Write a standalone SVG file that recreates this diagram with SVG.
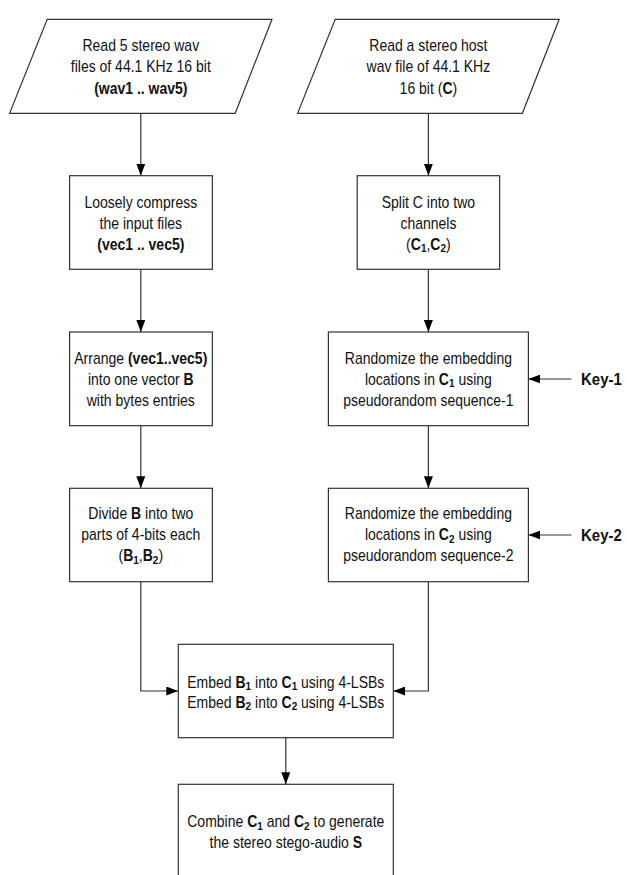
<svg xmlns="http://www.w3.org/2000/svg" width="627" height="875" viewBox="0 0 627 875">
<defs>
<marker id="ah" markerUnits="userSpaceOnUse" markerWidth="12" markerHeight="9" refX="12" refY="4.5" orient="auto">
<path d="M0,0 L12,4.5 L0,9 z" fill="#000"/>
</marker>
<style>
.shape{fill:#fff;stroke:#333;stroke-width:1.2}
.t{font-family:"Liberation Sans",Arial,sans-serif;font-size:14px;fill:#111;text-anchor:middle}
.b{font-weight:bold}
.s{font-size:10px;font-weight:bold}
.key{font-family:"Liberation Sans",Arial,sans-serif;font-size:15px;font-weight:bold;fill:#111}
.c{fill:none;stroke:#333;stroke-width:1.2;marker-end:url(#ah)}
</style>
</defs>
<rect width="627" height="875" fill="#fff"/>

<g id="connectors">
<path class="c" d="M140.8,113.3 V175.7"/>
<path class="c" d="M140.8,269.3 V332"/>
<path class="c" d="M140.8,425.7 V488.3"/>
<path class="c" d="M140.8,581.7 V691 H178.3"/>
<path class="c" d="M428.4,113.3 V175.7"/>
<path class="c" d="M428.4,269.3 V332"/>
<path class="c" d="M428.4,425.7 V488.3"/>
<path class="c" d="M428.4,581.7 V691 H393.3"/>
<path class="c" d="M571.5,379 H528.4"/>
<path class="c" d="M571.5,535 H528.4"/>
<path class="c" d="M285.8,737.7 V784.3"/>
</g>

<g id="input1">
<polygon class="shape" points="47.2,19.3 272,19.3 235.2,113.3 9.6,113.3"/>
<text class="t" x="140.8" y="0" transform="translate(0,51) scale(1,1.15)">Read 5 stereo wav</text>
<text class="t" x="140.8" y="0" transform="translate(0,72) scale(1,1.15)">files of 44.1 KHz 16 bit</text>
<text class="t b" x="140.8" y="0" transform="translate(0,93.5) scale(1,1.15)">(wav1 .. wav5)</text>
</g>

<g id="input2">
<polygon class="shape" points="335.2,19.3 559.2,19.3 522.4,113.3 297.6,113.3"/>
<text class="t" x="428.4" y="0" transform="translate(0,51) scale(1,1.15)">Read a stereo host</text>
<text class="t" x="428.4" y="0" transform="translate(0,72) scale(1,1.15)">wav file of 44.1 KHz</text>
<text class="t" x="428.4" y="0" transform="translate(0,93.5) scale(1,1.15)">16 bit (<tspan class="b">C</tspan>)</text>
</g>

<g id="compress">
<rect class="shape" x="69.6" y="175.7" width="142.8" height="93.6"/>
<text class="t" x="140.8" y="0" transform="translate(0,207.5) scale(1,1.15)">Loosely compress</text>
<text class="t" x="140.8" y="0" transform="translate(0,228.5) scale(1,1.15)">the input files</text>
<text class="t b" x="140.8" y="0" transform="translate(0,249.5) scale(1,1.15)">(vec1 .. vec5)</text>
</g>

<g id="split">
<rect class="shape" x="357.2" y="175.7" width="142.4" height="93.6"/>
<text class="t" x="428.4" y="0" transform="translate(0,207.5) scale(1,1.15)">Split C into two</text>
<text class="t" x="428.4" y="0" transform="translate(0,228.5) scale(1,1.15)">channels</text>
<text class="t" x="428.4" y="0" transform="translate(0,249.5) scale(1,1.15)">(<tspan class="b">C</tspan><tspan class="s" dy="2.5">1</tspan><tspan dy="-2.5">,</tspan><tspan class="b">C</tspan><tspan class="s" dy="2.5">2</tspan><tspan dy="-2.5">)</tspan></text>
</g>

<g id="arrange">
<rect class="shape" x="69.6" y="332" width="142.8" height="93.7"/>
<text class="t" x="140.8" y="0" transform="translate(0,363.5) scale(1,1.15)">Arrange <tspan class="b">(vec1..vec5)</tspan></text>
<text class="t" x="140.8" y="0" transform="translate(0,384.5) scale(1,1.15)">into one vector <tspan class="b">B</tspan></text>
<text class="t" x="140.8" y="0" transform="translate(0,405.5) scale(1,1.15)">with bytes entries</text>
</g>

<g id="randomize1">
<rect class="shape" x="328.4" y="332" width="200" height="93.7"/>
<text class="t" x="428.4" y="0" transform="translate(0,363.5) scale(1,1.15)">Randomize the embedding</text>
<text class="t" x="428.4" y="0" transform="translate(0,384.5) scale(1,1.15)">locations in <tspan class="b">C</tspan><tspan class="s" dy="2.5">1</tspan><tspan dy="-2.5"> using</tspan></text>
<text class="t" x="428.4" y="0" transform="translate(0,405.5) scale(1,1.15)">pseudorandom sequence-1</text>
</g>

<g id="key1">
<text class="key" x="581" y="0" transform="translate(0,385) scale(1,1.15)">Key-1</text>
</g>

<g id="divide">
<rect class="shape" x="69.6" y="488.3" width="142.8" height="93.4"/>
<text class="t" x="140.8" y="0" transform="translate(0,519) scale(1,1.15)">Divide <tspan class="b">B</tspan> into two</text>
<text class="t" x="140.8" y="0" transform="translate(0,540) scale(1,1.15)">parts of 4-bits each</text>
<text class="t" x="140.8" y="0" transform="translate(0,561) scale(1,1.15)">(<tspan class="b">B</tspan><tspan class="s" dy="2.5">1</tspan><tspan dy="-2.5">,</tspan><tspan class="b">B</tspan><tspan class="s" dy="2.5">2</tspan><tspan dy="-2.5">)</tspan></text>
</g>

<g id="randomize2">
<rect class="shape" x="328.4" y="488.3" width="200" height="93.4"/>
<text class="t" x="428.4" y="0" transform="translate(0,519) scale(1,1.15)">Randomize the embedding</text>
<text class="t" x="428.4" y="0" transform="translate(0,540) scale(1,1.15)">locations in <tspan class="b">C</tspan><tspan class="s" dy="2.5">2</tspan><tspan dy="-2.5"> using</tspan></text>
<text class="t" x="428.4" y="0" transform="translate(0,561) scale(1,1.15)">pseudorandom sequence-2</text>
</g>

<g id="key2">
<text class="key" x="581" y="0" transform="translate(0,541) scale(1,1.15)">Key-2</text>
</g>

<g id="embed">
<rect class="shape" x="178.3" y="644.3" width="215" height="93.4"/>
<text class="t" x="285.8" y="0" transform="translate(0,687.5) scale(1,1.15)">Embed <tspan class="b">B</tspan><tspan class="s" dy="2.5">1</tspan><tspan dy="-2.5"> into </tspan><tspan class="b">C</tspan><tspan class="s" dy="2.5">1</tspan><tspan dy="-2.5"> using 4-LSBs</tspan></text>
<text class="t" x="285.8" y="0" transform="translate(0,707.5) scale(1,1.15)">Embed <tspan class="b">B</tspan><tspan class="s" dy="2.5">2</tspan><tspan dy="-2.5"> into </tspan><tspan class="b">C</tspan><tspan class="s" dy="2.5">2</tspan><tspan dy="-2.5"> using 4-LSBs</tspan></text>
</g>

<g id="combine">
<rect class="shape" x="178.3" y="784.3" width="215" height="93.4"/>
<text class="t" x="285.8" y="0" transform="translate(0,827) scale(1,1.15)">Combine <tspan class="b">C</tspan><tspan class="s" dy="2.5">1</tspan><tspan dy="-2.5"> and </tspan><tspan class="b">C</tspan><tspan class="s" dy="2.5">2</tspan><tspan dy="-2.5"> to generate</tspan></text>
<text class="t" x="285.8" y="0" transform="translate(0,847.5) scale(1,1.15)">the stereo stego-audio <tspan class="b">S</tspan></text>
</g>
</svg>
